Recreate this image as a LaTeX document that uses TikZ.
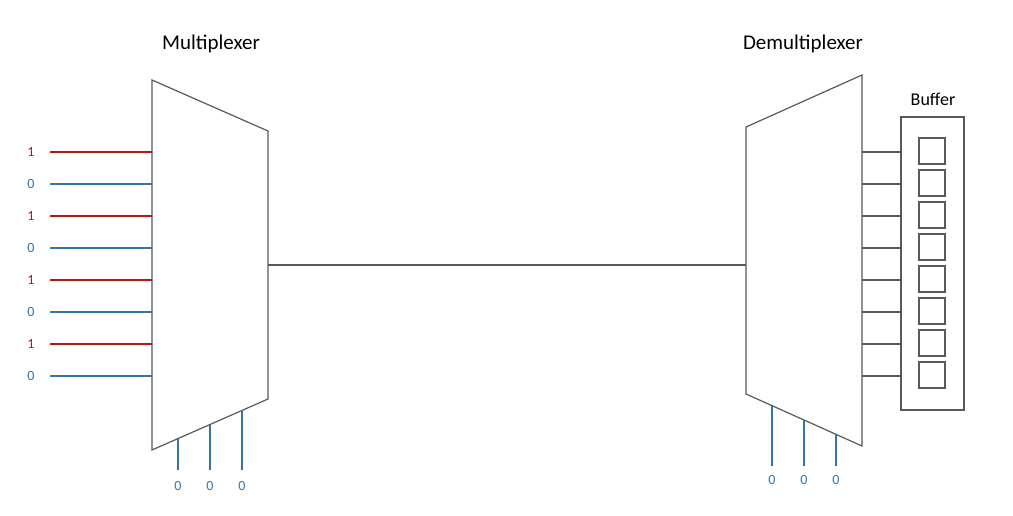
\documentclass[tikz,border=0pt]{standalone}
\usepackage{fontspec}
\setmainfont{Carlito}
\usetikzlibrary{calc}
\definecolor{bitred}{RGB}{200,16,16}
\definecolor{bitblue}{RGB}{46,117,182}
\definecolor{linegray}{RGB}{89,89,89}
\tikzset{
  box/.style={draw=linegray, line width=1.2pt},
  bit1/.style={draw=bitred, text=bitred, line width=1.3pt},
  bit0/.style={draw=bitblue, text=bitblue, line width=1.3pt},
  cell/.style={draw=linegray, line width=1.2pt, minimum size=26pt, inner sep=0pt},
  title/.style={font=\fontsize{21}{24}\selectfont},
  lbl/.style={font=\fontsize{14}{16}\selectfont},
}
\begin{document}
\begin{tikzpicture}[x=1pt,y=-1pt]
      \useasboundingbox (0,0) rectangle (1013,516);
      \node[title] (mtitle) at (211,44) {Multiplexer};
      \node[title] (dtitle) at (803,44) {Demultiplexer};
      \node[font=\fontsize{18}{20}\selectfont] (btitle) at (933,99) {Buffer};
      \draw[box]
        (152,80) coordinate (m1) -- (268,131) coordinate (m2) --
        (268,399) coordinate (m3) -- (152,450) coordinate (m4) -- cycle;
      \draw[box]
        (746,127) coordinate (d1) -- (862,75) coordinate (d2) --
        (862,446) coordinate (d3) -- (746,394) coordinate (d4) -- cycle;
      \node[box, minimum width=63pt, minimum height=293pt, inner sep=0pt] (buf) at (932.5,263.5) {};
      \draw[lbl]
        (31,152) node[text=bitred] (i0){1}
        (31,184) node[text=bitblue] (i1){0}
        (31,216) node[text=bitred] (i2){1}
        (31,248) node[text=bitblue] (i3){0}
        (31,280) node[text=bitred] (i4){1}
        (31,312) node[text=bitblue] (i5){0}
        (31,344) node[text=bitred] (i6){1}
        (31,376) node[text=bitblue] (i7){0}
        (178,486) node[text=bitblue] (s0){0}
        (210,486) node[text=bitblue] (s1){0}
        (242,486) node[text=bitblue] (s2){0}
        (772,480) node[text=bitblue] (t0){0}
        (804,480) node[text=bitblue] (t1){0}
        (836,480) node[text=bitblue] (t2){0};
      \foreach \b [count=\i from 0] in {1,0,1,0,1,0,1,0} {
        \coordinate (a\i) at (50,152+32*\i);
        \draw[bit\b] (a\i) -- (m1 |- a\i);
        \coordinate (o\i) at (862,152+32*\i);
        \draw[box] (o\i) -- (buf.west |- o\i);
        \node[cell] (c\i) at (932,151+32*\i) {};
      }
      \begin{scope}[bit0]
        \draw ($(m4)!0.224!(m3)$) -- ++(0,470-438.6) coordinate (e0);
        \draw ($(m4)!0.5!(m3)$) -- ++(0,470-424.5) coordinate (e1);
        \draw ($(m4)!0.776!(m3)$) -- ++(0,470-410) coordinate (e2);
        \draw ($(d4)!0.224!(d3)$) -- ++(0,466-405.6) coordinate (f0);
        \draw ($(d4)!0.5!(d3)$) -- ++(0,466-420) coordinate (f1);
        \draw ($(d4)!0.776!(d3)$) -- ++(0,466-434.4) coordinate (f2);
      \end{scope}
      \coordinate (mout) at (268,265);
      \draw[box] (mout) -- (d1 |- mout);
    \end{tikzpicture}
\end{document}
